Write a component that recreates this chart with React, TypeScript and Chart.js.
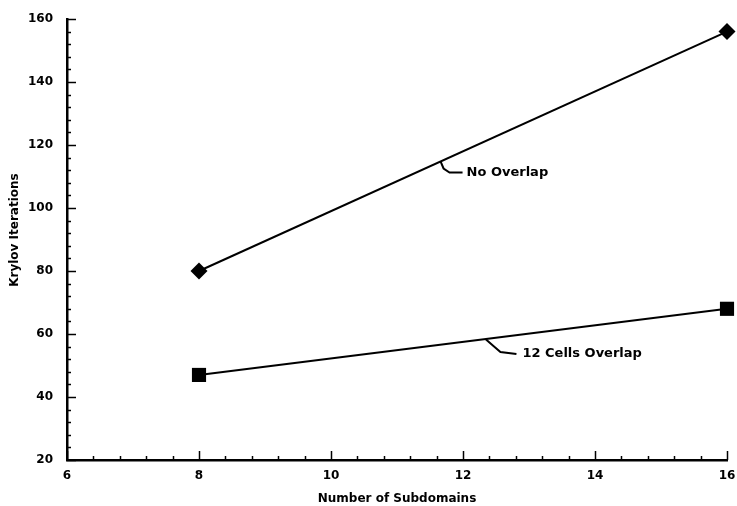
import React, { useEffect, useRef } from "react";
import { Chart, registerables } from "chart.js";

Chart.register(...registerables);

const subdomains = [8, 16];
const noOverlap = [80, 156];
const cellsOverlap = [47, 68];
const xTicks = [6, 8, 10, 12, 14, 16];
const yTicks = [20, 40, 60, 80, 100, 120, 140, 160];
const seriesNames = ["No Overlap", "12 Cells Overlap"];
const xTitle = "Number of Subdomains";
const yTitle = "Krylov Iterations";

const FONT = "'DejaVu Sans', sans-serif";

// annotation anchors: data-x on the line; leader shape in px offsets
const annotations = [
  { series: 0, atX: 11.66, path: [[3, 7], [9, 11], [22, 11]], text: [26, 11] },
  { series: 1, atX: 12.34, path: [[8, 7], [15, 13], [31, 15]], text: [37, 15] },
];

const seriesValues = [noOverlap, cellsOverlap];

function lineValueAt(vals: number[], x: number) {
  const t = (x - subdomains[0]) / (subdomains[1] - subdomains[0]);
  return vals[0] + t * (vals[1] - vals[0]);
}

const decorPlugin = {
  id: "decor",
  afterDraw(chart: any) {
    const ctx = chart.ctx;
    const xs = chart.scales.x;
    const ys = chart.scales.y;
    const area = chart.chartArea;
    ctx.save();
    ctx.strokeStyle = "#000";
    ctx.lineWidth = 1.5;
    for (let v = 6; v <= 16.001; v += 0.4) {
      const px = Math.round(xs.getPixelForValue(v)) + 0.5;
      const major = Math.abs(v / 2 - Math.round(v / 2)) < 0.01;
      const len = major ? 9 : 4;
      ctx.beginPath();
      ctx.moveTo(px, area.bottom);
      ctx.lineTo(px, area.bottom - len);
      ctx.stroke();
    }
    for (let v = 20; v <= 160.001; v += 4) {
      const py = Math.round(ys.getPixelForValue(v)) + 0.5;
      const major = Math.abs(v / 20 - Math.round(v / 20)) < 0.01;
      const len = major ? 9 : 4;
      ctx.beginPath();
      ctx.moveTo(area.left, py);
      ctx.lineTo(area.left + len, py);
      ctx.stroke();
    }
    ctx.fillStyle = "#000";
    ctx.font = `bold 12px ${FONT}`;
    ctx.textAlign = "center";
    ctx.textBaseline = "middle";
    ctx.save();
    ctx.translate(15, ys.getPixelForValue(93));
    ctx.rotate(-Math.PI / 2);
    ctx.fillText(yTitle, 0, 0);
    ctx.restore();
    ctx.lineWidth = 2;
    ctx.textAlign = "left";
    ctx.font = `bold 13px ${FONT}`;
    annotations.forEach((a) => {
      const ax = xs.getPixelForValue(a.atX);
      const ay = ys.getPixelForValue(lineValueAt(seriesValues[a.series], a.atX));
      ctx.beginPath();
      ctx.moveTo(ax, ay);
      a.path.forEach(([dx, dy]) => ctx.lineTo(ax + dx, ay + dy));
      ctx.stroke();
      ctx.fillText(seriesNames[a.series], ax + a.text[0], ay + a.text[1]);
    });
    ctx.restore();
  },
};

export default function App() {
  const ref = useRef<HTMLCanvasElement>(null);
  useEffect(() => {
    if (!ref.current) return;
    const mk = (vals: number[]) => subdomains.map((x, i) => ({ x, y: vals[i] }));
    const chart = new Chart(ref.current, {
      type: "scatter",
      data: {
        datasets: [
          {
            label: seriesNames[0],
            data: mk(noOverlap),
            showLine: true,
            borderColor: "#000",
            backgroundColor: "#000",
            borderWidth: 2,
            pointStyle: "rectRot",
            pointRadius: 8.5,
            pointBorderWidth: 0,
            clip: false,
          },
          {
            label: seriesNames[1],
            data: mk(cellsOverlap),
            showLine: true,
            borderColor: "#000",
            backgroundColor: "#000",
            borderWidth: 2,
            pointStyle: "rect",
            pointRadius: 10,
            pointBorderWidth: 0,
            clip: false,
          },
        ],
      },
      options: {
        animation: false,
        responsive: true,
        maintainAspectRatio: false,
        layout: { padding: { top: 19, right: 4, left: 0, bottom: 0 } },
        plugins: { legend: { display: false }, tooltip: { enabled: false } },
        scales: {
          x: {
            type: "linear",
            min: 6,
            max: 16,
            afterBuildTicks: (s: any) => {
              s.ticks = xTicks.map((v) => ({ value: v }));
            },
            afterFit: (s: any) => {
              s.height = 46;
              s.paddingRight = 0;
              s.paddingLeft = 0;
            },
            ticks: {
              color: "#000",
              font: { family: FONT, weight: "bold", size: 12 },
              padding: 9,
            },
            grid: { display: false, drawTicks: false },
            border: { display: true, color: "#000", width: 2.5 },
            title: {
              display: true,
              text: xTitle,
              color: "#000",
              font: { family: FONT, weight: "bold", size: 12 },
              padding: { top: 3, bottom: 0 },
            },
          },
          y: {
            type: "linear",
            min: 20,
            max: 160,
            afterBuildTicks: (s: any) => {
              s.ticks = yTicks.map((v) => ({ value: v }));
            },
            afterFit: (s: any) => {
              s.width = 67;
              s.paddingTop = 0;
              s.paddingBottom = 0;
            },
            ticks: {
              color: "#000",
              font: { family: FONT, weight: "bold", size: 12 },
              padding: 14,
            },
            grid: { display: false, drawTicks: false },
            border: { display: true, color: "#000", width: 2.5 },
          },
        },
      },
      plugins: [decorPlugin],
    } as any);
    return () => chart.destroy();
  }, []);
  return (
    <div style={{ position: "absolute", left: 0, top: 0, width: 737, height: 506, background: "#fff" }}>
      <canvas ref={ref} />
    </div>
  );
}
